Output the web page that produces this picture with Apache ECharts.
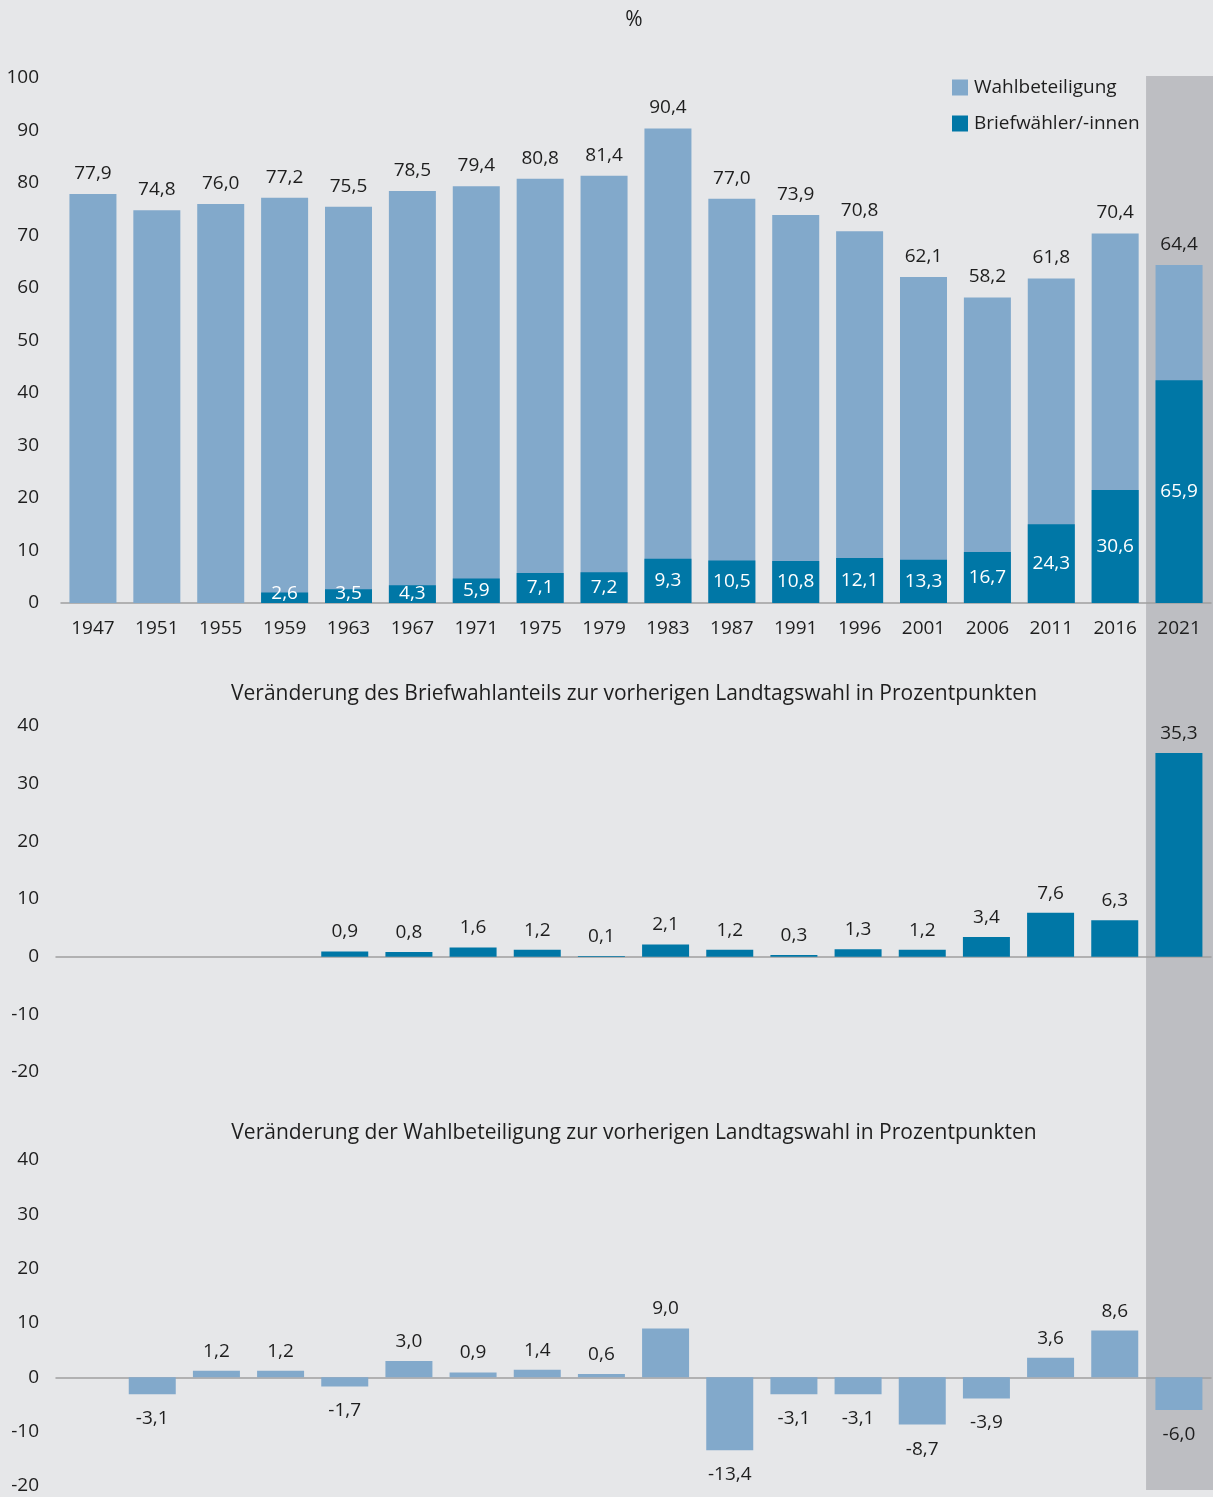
<!DOCTYPE html>
<html>
<head>
<meta charset="utf-8">
<script src="https://cdn.jsdelivr.net/npm/echarts@6/dist/echarts.min.js"></script>
<style>
  html, body { margin: 0; padding: 0; background: #e6e7e9; }
  #chart { width: 1213px; height: 1497px; }
</style>
</head>
<body>
<div id="chart"></div>
<script>
// Jahre der Landtagswahlen
const years = ['1947', '1951', '1955', '1959', '1963', '1967', '1971', '1975', '1979',
  '1983', '1987', '1991', '1996', '2001', '2006', '2011', '2016', '2021'];
// Wahlbeteiligung in %
const turnout = [77.9, 74.8, 76.0, 77.2, 75.5, 78.5, 79.4, 80.8, 81.4,
  90.4, 77.0, 73.9, 70.8, 62.1, 58.2, 61.8, 70.4, 64.4];
// Anteil Briefwähler/-innen an den Wählern in %
const postalShare = [null, null, null, 2.6, 3.5, 4.3, 5.9, 7.1, 7.2,
  9.3, 10.5, 10.8, 12.1, 13.3, 16.7, 24.3, 30.6, 65.9];
// Veränderung des Briefwahlanteils in Prozentpunkten
const postalChange = [null, null, null, null, 0.9, 0.8, 1.6, 1.2, 0.1,
  2.1, 1.2, 0.3, 1.3, 1.2, 3.4, 7.6, 6.3, 35.3];
// Veränderung der Wahlbeteiligung in Prozentpunkten
const turnoutChange = [null, -3.1, 1.2, 1.2, -1.7, 3.0, 0.9, 1.4, 0.6,
  9.0, -13.4, -3.1, -3.1, -8.7, -3.9, 3.6, 8.6, -6.0];

const LIGHT = '#82a9cb';
const DARK = '#0077a6';
const TEXT = '#1e1e1e';
const FONT = '"Open Sans", "Noto Sans", sans-serif';
const NUM = 19;

const fmt = v => v.toFixed(1).replace('.', ',');

// Briefwähler als Teil der Balkenhöhe
const postalBars = postalShare.map((s, i) => {
  if (s == null) return null;
  const v = turnout[i] * s / 100;
  const small = v * 5.25 < 22;
  return {
    value: v,
    share: s,
    label: small ? { position: 'insideBottom', distance: 0 } : { position: 'inside' }
  };
});

const changeItems = arr => arr.map(v => v == null ? null : {
  value: v,
  label: { position: v >= 0 ? 'top' : 'bottom', distance: v >= 0 ? 10 : 15 }
});

const chart = echarts.init(document.getElementById('chart'));

const yAxisBase = {
  type: 'value',
  interval: 10,
  splitLine: { show: false },
  axisLine: { show: false },
  axisTick: { show: false },
  axisLabel: { color: TEXT, fontSize: NUM, fontFamily: FONT }
};
const xAxisBase = {
  type: 'category',
  data: years,
  axisTick: { show: false },
  axisLine: { lineStyle: { color: '#a0a0a0', width: 1.5 } }
};
const valLabel = {
  show: true,
  color: TEXT,
  fontSize: NUM,
  fontFamily: FONT,
  formatter: p => fmt(p.value)
};
const titleStyle = { color: TEXT, fontSize: 21, fontWeight: 'normal', fontFamily: FONT };

chart.setOption({
  backgroundColor: '#e6e7e9',
  animation: false,
  textStyle: { fontFamily: FONT },
  title: [
    { text: '%', left: 634, top: 10, textAlign: 'center', padding: 0, textStyle: titleStyle },
    { text: 'Veränderung des Briefwahlanteils zur vorherigen Landtagswahl in Prozentpunkten',
      left: 634, top: 684, textAlign: 'center', padding: 0, textStyle: titleStyle },
    { text: 'Veränderung der Wahlbeteiligung zur vorherigen Landtagswahl in Prozentpunkten',
      left: 634, top: 1123, textAlign: 'center', padding: 0, textStyle: titleStyle }
  ],
  legend: {
    orient: 'vertical',
    left: 952,
    top: 78,
    padding: 0,
    itemGap: 17,
    itemWidth: 16,
    itemHeight: 16,
    icon: 'rect',
    textStyle: { color: TEXT, fontSize: 19, fontFamily: FONT, padding: [0, 0, 0, 1] },
    data: ['Wahlbeteiligung', 'Briefwähler/-innen']
  },
  grid: [
    { left: 61, right: 2, top: 78, height: 525 },
    { left: 56, right: 2, top: 726, height: 346 },
    { left: 56, right: 2, top: 1160, height: 326 }
  ],
  xAxis: [
    Object.assign({}, xAxisBase, { gridIndex: 0,
      axisLabel: { color: TEXT, fontSize: NUM, fontFamily: FONT, margin: 16 } }),
    Object.assign({}, xAxisBase, { gridIndex: 1, axisLabel: { show: false } }),
    Object.assign({}, xAxisBase, { gridIndex: 2, axisLabel: { show: false } })
  ],
  yAxis: [
    Object.assign({}, yAxisBase, { gridIndex: 0, min: 0, max: 100,
      axisLabel: Object.assign({}, yAxisBase.axisLabel, { margin: 22 }) }),
    Object.assign({}, yAxisBase, { gridIndex: 1, min: -20, max: 40,
      axisLabel: Object.assign({}, yAxisBase.axisLabel, { margin: 17 }) }),
    Object.assign({}, yAxisBase, { gridIndex: 2, min: -20, max: 40,
      axisLabel: Object.assign({}, yAxisBase.axisLabel, { margin: 17 }) })
  ],
  series: [
    {
      name: 'Wahlbeteiligung',
      type: 'bar',
      xAxisIndex: 0, yAxisIndex: 0,
      barWidth: 47,
      barGap: '-100%',
      itemStyle: { color: LIGHT },
      label: Object.assign({}, valLabel, { position: 'top', distance: 11 }),
      data: turnout
    },
    {
      name: 'Briefwähler/-innen',
      type: 'bar',
      xAxisIndex: 0, yAxisIndex: 0,
      barWidth: 47,
      barGap: '-100%',
      itemStyle: { color: DARK },
      label: {
        show: true,
        color: '#ffffff',
        fontSize: NUM,
        fontFamily: FONT,
        formatter: p => fmt(p.data.share)
      },
      data: postalBars
    },
    {
      name: 'Veränderung Briefwahlanteil',
      type: 'bar',
      xAxisIndex: 1, yAxisIndex: 1,
      barWidth: 47,
      itemStyle: { color: DARK },
      label: valLabel,
      data: changeItems(postalChange)
    },
    {
      name: 'Veränderung Wahlbeteiligung',
      type: 'bar',
      xAxisIndex: 2, yAxisIndex: 2,
      barWidth: 47,
      itemStyle: { color: LIGHT },
      label: valLabel,
      data: changeItems(turnoutChange)
    }
  ]
});

// grauer Hintergrund für 2021
const cx = chart.convertToPixel({ xAxisIndex: 0 }, '2021');
chart.setOption({
  graphic: [{
    type: 'rect',
    z: -10,
    silent: true,
    shape: { x: cx - 33, y: 76, width: 1213 - (cx - 33), height: 1414 },
    style: { fill: '#bdbec2' }
  }]
});
</script>
</body>
</html>
